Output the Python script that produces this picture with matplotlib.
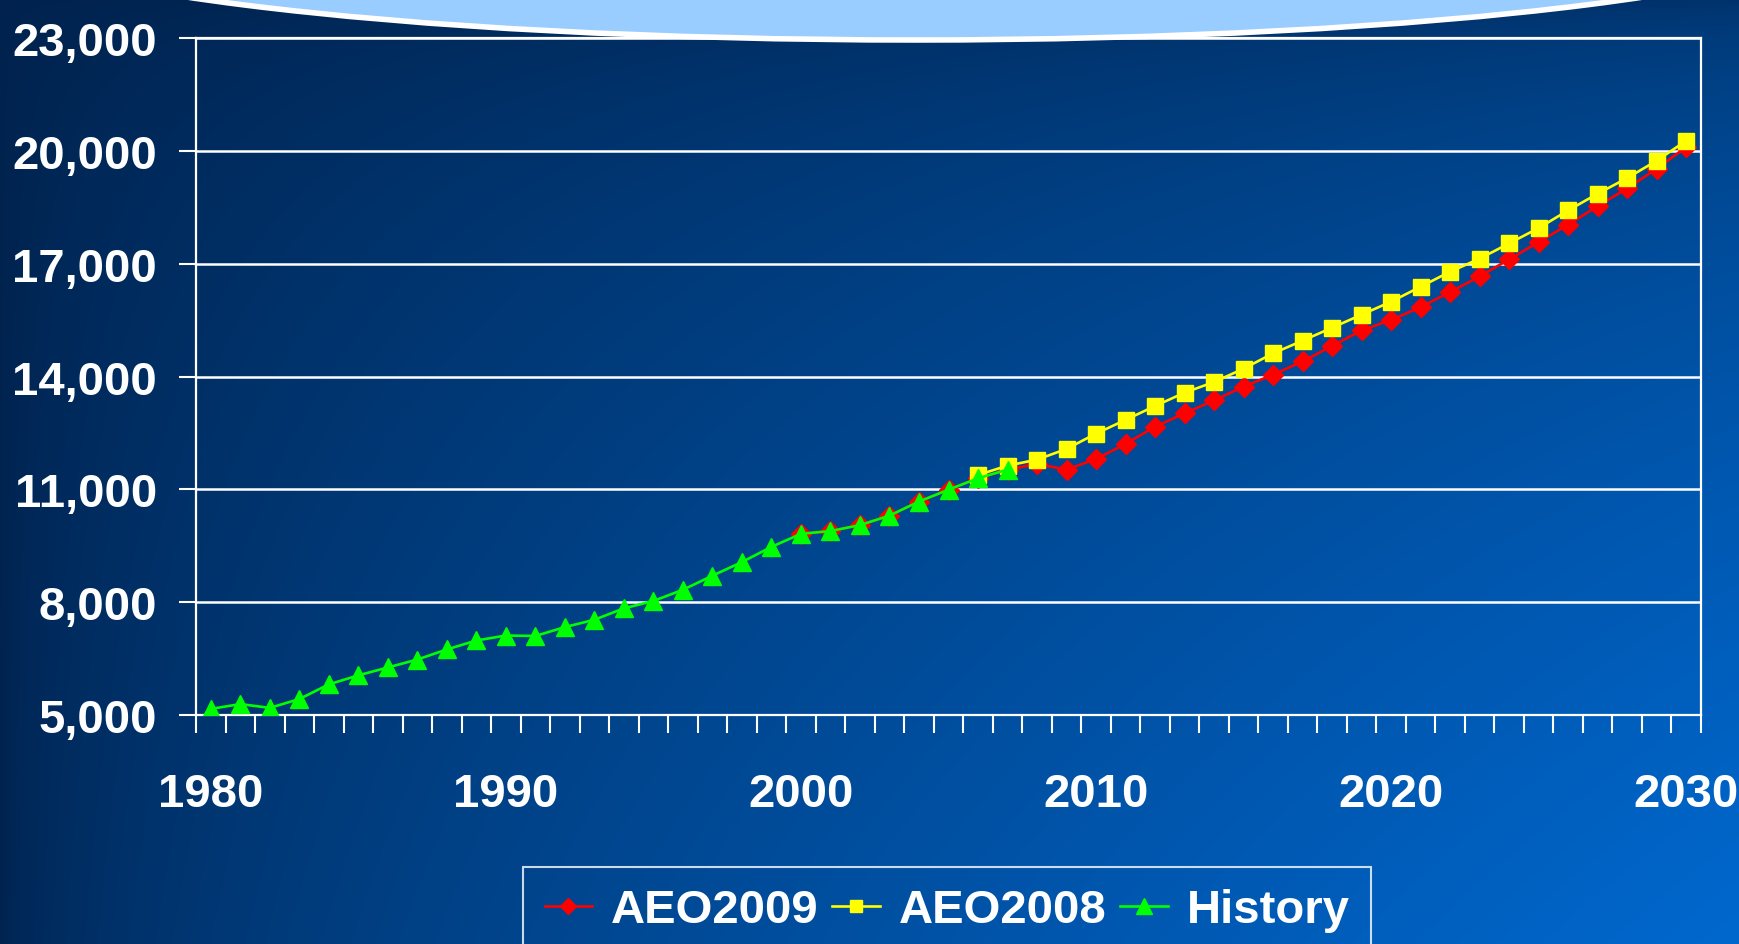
"""Real GDP: AEO2009 vs AEO2008 projections and history, slide-style chart."""

import numpy as np
import matplotlib

matplotlib.use("Agg")
import matplotlib.pyplot as plt
from matplotlib.patches import Ellipse
from matplotlib.ticker import FuncFormatter

# --- data ---
history_years = list(range(1980, 2008))
history_values = [5161, 5291, 5189, 5424, 5814, 6054, 6264, 6475, 6743, 6981,
                  7113, 7101, 7337, 7533, 7836, 8032, 8329, 8704, 9067, 9470,
                  9817, 9891, 10049, 10301, 10676, 10990, 11295, 11524]

aeo2009_years = list(range(2000, 2031))
aeo2009_values = [9817, 9891, 10049, 10301, 10676, 10990, 11295, 11524,
                  11675, 11524, 11808, 12207, 12666, 13020, 13366, 13730,
                  14049, 14403, 14811, 15227, 15502, 15846, 16245, 16662,
                  17115, 17576, 18037, 18533, 19003, 19526, 20102]

aeo2008_years = list(range(2006, 2031))
aeo2008_values = [11382, 11630, 11790, 12074, 12482, 12846, 13216, 13570,
                  13854, 14208, 14616, 14953, 15298, 15644, 15990, 16388,
                  16787, 17133, 17540, 17948, 18418, 18861, 19277, 19738, 20270]

y_ticks = [5000, 8000, 11000, 14000, 17000, 20000, 23000]
x_label_years = [1980, 1990, 2000, 2010, 2020, 2030]

W, H = 1740, 945
FONT = 34

plt.rcParams["font.family"] = ["Liberation Sans", "DejaVu Sans"]
plt.rcParams["font.weight"] = "bold"

fig = plt.figure(figsize=(W / 100, H / 100), dpi=100)

# background gradient: dark navy on the left/top, bright blue towards bottom-right
bg = fig.add_axes([0, 0, 1, 1], zorder=0)
u = np.linspace(0, 1, W)[None, :]
v = np.linspace(0, 1, H)[:, None]
f = 0.2 * u + 0.8 * np.sqrt(u * v)
dark = np.array([0x00, 0x22, 0x4D]) / 255
bright = np.array([0x00, 0x68, 0xCE]) / 255
grad = dark[None, None, :] + (bright - dark)[None, None, :] * f[:, :, None]
bg.imshow(grad, extent=(0, W, H, 0), aspect="auto")
bg.set_xlim(0, W)
bg.set_ylim(H, 0)
bg.axis("off")

ax = fig.add_axes([196 / W, 1 - 716 / H, (1701 - 196) / W, (716 - 39) / H], zorder=2)
ax.patch.set_alpha(0)

line_kw = dict(linewidth=1.9)
ax.plot(aeo2009_years, aeo2009_values, color="#FF0000", marker="D", markersize=10,
        label="AEO2009", zorder=3, **line_kw)
ax.plot(aeo2008_years, aeo2008_values, color="#FFFF00", marker="s", markersize=11,
        label="AEO2008", zorder=4, **line_kw)
ax.plot(history_years, history_values, color="#00FF00", marker="^", markersize=13,
        label="History", zorder=5, **line_kw)

ax.set_xlim(1979.5, 2030.5)
ax.set_ylim(5000, 23000)

ax.set_yticks(y_ticks)
ax.yaxis.set_major_formatter(FuncFormatter(lambda val, pos: f"{int(val):,}"))
ax.grid(axis="y", color="white", linewidth=1.8, zorder=1)
ax.tick_params(axis="y", colors="white", length=12, width=1.5, pad=16,
               labelsize=FONT, labelcolor="white")

# category-style x axis: tick marks between years, labels every decade
ax.set_xticks(x_label_years)
ax.set_xticks(np.arange(1979.5, 2031, 1), minor=True)
ax.tick_params(axis="x", which="major", length=0, pad=41,
               labelsize=FONT, labelcolor="white")
ax.tick_params(axis="x", which="minor", direction="out", length=13, width=1.5,
               colors="white")

for side in ["left", "right", "bottom", "top"]:
    ax.spines[side].set_color("white")
    ax.spines[side].set_linewidth(1.6)

leg = fig.legend(loc="upper center", bbox_to_anchor=(947 / W, 1 - 868 / H), ncol=3,
                 fontsize=FONT, frameon=True, fancybox=False, edgecolor="white",
                 facecolor="none", handlelength=1.0, handletextpad=0.4,
                 columnspacing=0.3, borderpad=0.45, borderaxespad=0,
                 numpoints=1, markerscale=0.85)
leg.get_frame().set_linewidth(1.5)
for text in leg.get_texts():
    text.set_color("white")
    text.set_fontweight("bold")

# title bubble, mostly cut off at the top of the slide
top = fig.add_axes([0, 0, 1, 1], zorder=5)
top.set_xlim(0, W)
top.set_ylim(H, 0)
top.axis("off")
top.patch.set_alpha(0)
top.add_patch(Ellipse((915, -79), 2 * 950, 240, facecolor="#99CCFF",
                      edgecolor="white", linewidth=4))

fig.savefig("out.png", dpi=100)
